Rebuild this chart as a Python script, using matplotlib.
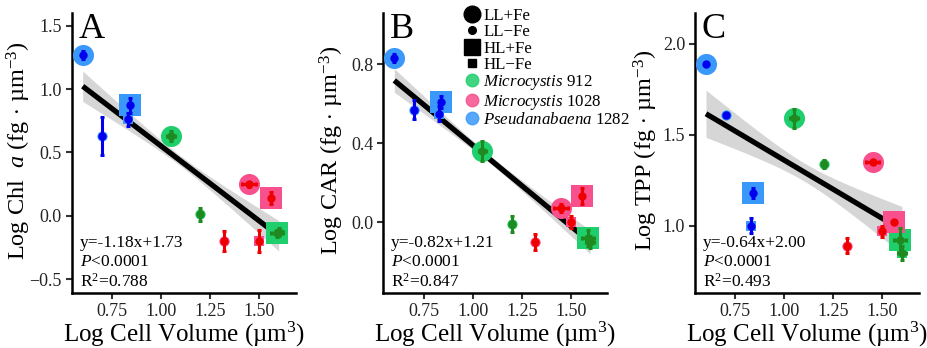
import numpy as np
import matplotlib.pyplot as plt
from matplotlib.lines import Line2D

plt.rcParams['font.family'] = ['Liberation Serif', 'DejaVu Serif']
plt.rcParams['mathtext.fontset'] = 'custom'
plt.rcParams['mathtext.rm'] = 'Liberation Serif'
plt.rcParams['mathtext.it'] = 'Liberation Serif:italic'

# treatments order: LL+Fe, LL-Fe, HL+Fe, HL-Fe
treatments = ['LL+Fe', 'LL\u2212Fe', 'HL+Fe', 'HL\u2212Fe']
strains = ['Microcystis 912', 'Microcystis 1028', 'Pseudanabaena 1282']

# log cell volume (x) and its error
vol_m912 = [1.05, 1.20, 1.59, 1.60]
vol_m1028 = [1.45, 1.32, 1.56, 1.50]
vol_p1282 = [0.60, 0.70, 0.84, 0.83]
vol_err_m912 = [0.02, 0.005, 0.03, 0.02]
vol_err_m1028 = [0.035, 0.005, 0.005, 0.005]
vol_err_p1282 = [0.005, 0.005, 0.005, 0.005]

# A: log chl a
chl_m912 = [0.63, 0.01, -0.14, -0.13]
chl_m1028 = [0.25, -0.20, 0.14, -0.20]
chl_p1282 = [1.27, 0.63, 0.87, 0.76]
chl_err_m912 = [0.04, 0.05, 0.03, 0.03]
chl_err_m1028 = [0.02, 0.08, 0.05, 0.09]
chl_err_p1282 = [0.03, 0.15, 0.06, 0.05]

# B: log CAR
car_m912 = [0.36, -0.01, -0.08, -0.10]
car_m1028 = [0.07, -0.10, 0.13, 0.00]
car_p1282 = [0.83, 0.57, 0.61, 0.55]
car_err_m912 = [0.05, 0.04, 0.04, 0.03]
car_err_m1028 = [0.02, 0.04, 0.04, 0.03]
car_err_p1282 = [0.02, 0.05, 0.03, 0.04]

# C: log TPP
tpp_m912 = [1.59, 1.34, 0.92, 0.85]
tpp_m1028 = [1.35, 0.89, 1.02, 0.97]
tpp_p1282 = [1.89, 1.61, 1.18, 1.00]
tpp_err_m912 = [0.05, 0.02, 0.07, 0.04]
tpp_err_m1028 = [0.01, 0.04, 0.01, 0.03]
tpp_err_p1282 = [0.01, 0.01, 0.03, 0.04]

# regression lines
fit_slope = [-1.18, -0.82, -0.64]
fit_intercept = [1.73, 1.21, 2.00]
fit_r2 = ['0.788', '0.847', '0.493']
band_mid = [0.04, 0.02, 0.05]
band_end = [0.12, 0.06, 0.13]

panel_letters = ['A', 'B', 'C']
ylabels = ['Log Chl  $\\mathit{a}$ (fg$\\,\\cdot\\,$µm$^{-3}$)',
           'Log CAR (fg$\\,\\cdot\\,$µm$^{-3}$)',
           'Log TPP (fg$\\,\\cdot\\,$µm$^{-3}$)']
yticks = [[-0.5, 0.0, 0.5, 1.0, 1.5], [0.0, 0.4, 0.8], [1.0, 1.5, 2.0]]
ylims = [(-0.61, 1.60), (-0.36, 1.06), (0.63, 2.17)]

fill_cols = ['#1fce6c', '#f7508c', '#3a98fb']
dark_cols = ['#1f8a1f', '#ee0000', '#0000ee']
marker_shapes = ['o', 'o', 's', 's']
marker_sizes = [230, 55, 230, 55]

vols = [vol_m912, vol_m1028, vol_p1282]
vol_errs = [vol_err_m912, vol_err_m1028, vol_err_p1282]
panel_vals = [[chl_m912, chl_m1028, chl_p1282],
              [car_m912, car_m1028, car_p1282],
              [tpp_m912, tpp_m1028, tpp_p1282]]
panel_errs = [[chl_err_m912, chl_err_m1028, chl_err_p1282],
              [car_err_m912, car_err_m1028, car_err_p1282],
              [tpp_err_m912, tpp_err_m1028, tpp_err_p1282]]

fig = plt.figure(figsize=(9.28, 3.48), dpi=100)
lefts = [71.7, 383.3, 695.0]
ylabel_x = [-0.172, -0.167, -0.157]

for p in range(3):
    ax = fig.add_axes([lefts[p] / 928, 55 / 348, 224 / 928, 280 / 348])
    # regression band + line
    xs = np.linspace(0.60, 1.60, 100)
    ys = fit_slope[p] * xs + fit_intercept[p]
    k = (band_end[p] ** 2 - band_mid[p] ** 2) / 0.25
    hw = np.sqrt(band_mid[p] ** 2 + k * (xs - 1.1) ** 2)
    ax.fill_between(xs, ys - hw, ys + hw, color='#d6d6d6', lw=0, zorder=1)
    ax.plot(xs, ys, color='black', lw=3.8, zorder=2, solid_capstyle='butt')

    for s in range(3):
        for t in range(4):
            ax.scatter(vols[s][t], panel_vals[p][s][t], s=marker_sizes[t],
                       marker=marker_shapes[t], color=fill_cols[s], lw=0, zorder=3)
        for t in range(4):
            ax.errorbar(vols[s][t], panel_vals[p][s][t], yerr=panel_errs[p][s][t],
                        xerr=vol_errs[s][t], fmt='o', ms=5, color=dark_cols[s],
                        elinewidth=2.2, capsize=1.5, capthick=2.2, zorder=4)

    ax.set_xlim(0.544, 1.687)
    ax.set_ylim(*ylims[p])
    ax.set_xticks([0.75, 1.00, 1.25, 1.50])
    ax.set_xticklabels(['0.75', '1.00', '1.25', '1.50'])
    ax.set_yticks(yticks[p])
    ax.set_yticklabels([('%.1f' % v).replace('-', '\u2212') for v in yticks[p]])
    for side in ['top', 'right']:
        ax.spines[side].set_visible(False)
    for side in ['left', 'bottom']:
        ax.spines[side].set_linewidth(1.8)
    ax.tick_params(labelsize=13, width=1.5, length=4, pad=3,
                   color='#333333', labelcolor='#222222')
    ax.set_xlabel('Log Cell Volume (µm$^3$)', fontsize=18, labelpad=0)
    ax.set_ylabel(ylabels[p], fontsize=17.5)
    ax.yaxis.set_label_coords(ylabel_x[p], 0.51)
    ax.text(0.03, 1.0, panel_letters[p], transform=ax.transAxes, fontsize=26,
            va='top', ha='left')
    ax.text(0.035, 0.18, 'y=%.2fx+%.2f' % (fit_slope[p], fit_intercept[p]),
            transform=ax.transAxes, fontsize=12.5, va='center')
    ax.text(0.035, 0.11, '$\\mathit{P}$<0.0001', transform=ax.transAxes,
            fontsize=12.5, va='center')
    ax.text(0.035, 0.04, 'R$^2$=' + fit_r2[p], transform=ax.transAxes,
            fontsize=12.5, va='center')

# legend
handles = [
    Line2D([], [], ls='', marker='o', ms=12, color='black'),
    Line2D([], [], ls='', marker='o', ms=5.5, color='black'),
    Line2D([], [], ls='', marker='s', ms=12, color='black'),
    Line2D([], [], ls='', marker='s', ms=5.5, color='black'),
]
for s in range(3):
    handles.append(Line2D([], [], ls='', marker='o', ms=9, color=fill_cols[s], alpha=0.85))
labels = treatments + ['$\\mathit{Microcystis}$ 912', '$\\mathit{Microcystis}$ 1028',
                       '$\\mathit{Pseudanabaena}$ 1282']
fig.legend(handles, labels, loc='upper left', bbox_to_anchor=(464 / 928, 1 - 8 / 348),
           frameon=False, fontsize=12.2, handlelength=1.0, handletextpad=0.15,
           labelspacing=0.02, borderpad=0, borderaxespad=0)

fig.savefig('out.png', dpi=100)
